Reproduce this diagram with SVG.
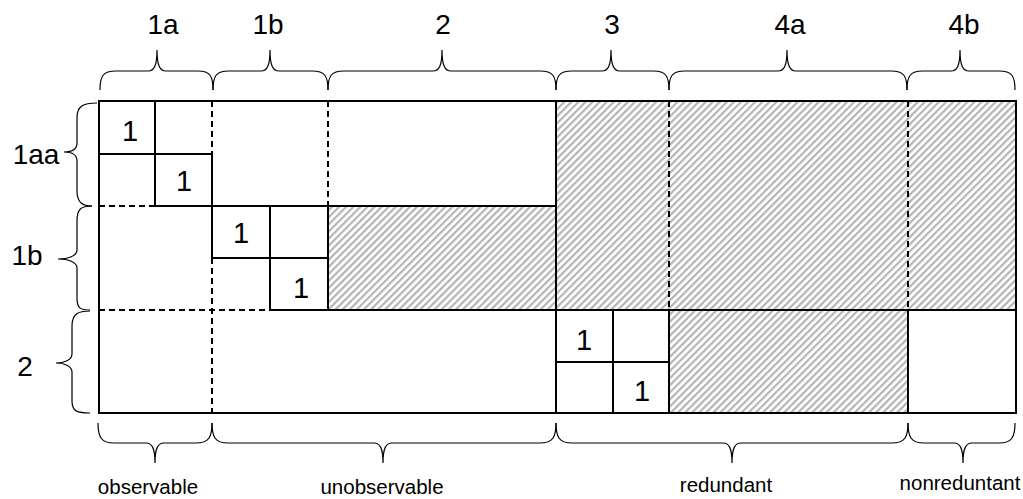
<svg xmlns="http://www.w3.org/2000/svg" width="1023" height="499" viewBox="0 0 1023 499">
  <style>
    .big { font-family: "Liberation Sans", Arial, sans-serif; font-size: 28px; fill: #000; text-anchor: middle; }
    .one { font-family: "Liberation Sans", Arial, sans-serif; font-size: 29px; fill: #000; text-anchor: middle; }
    .small { font-family: "Liberation Sans", Arial, sans-serif; font-size: 20.5px; fill: #000; text-anchor: middle; }
    .solid { stroke: #000; stroke-width: 2; fill: none; }
    .dash { stroke: #000; stroke-width: 2; fill: none; stroke-dasharray: 6 4; }
    .brace { stroke: #000; stroke-width: 1.2; fill: none; }
  </style>
  <defs>
    <pattern id="hatch" patternUnits="userSpaceOnUse" width="5" height="10" patternTransform="rotate(45)">
      <rect x="0" y="0" width="5" height="10" fill="#fff"/>
      <rect x="0" y="0" width="2.2" height="10" fill="#b4b4b4"/>
    </pattern>
  </defs>
  <rect width="1023" height="499" fill="#fff"/>

  <g id="hatched-regions">
    <rect x="556" y="101" width="460" height="209" fill="url(#hatch)"/>
    <rect x="328" y="206" width="228" height="104" fill="url(#hatch)"/>
    <rect x="669" y="310" width="239" height="103" fill="url(#hatch)"/>
  </g>

  <g id="matrix">
    <rect class="solid" x="99" y="101" width="917" height="312"/>
    <path class="solid" d="M155,101 V206 M99,154 H212 M212,154 V258 M155,206 H556 M212,258 H328 M270,206 V310 M328,206 V310 M270,310 H1016 M556,101 V413 M613,310 V413 M556,362 H669 M669,310 V413 M908,310 V413"/>
    <path class="dash" d="M212,101 V154 M328,101 V206 M99,206 H155 M212,258 V413 M99,310 H270 M669,101 V310 M908,101 V310"/>
  </g>

  <g id="ones">
    <text class="one" x="130" y="141">1</text>
    <text class="one" x="184" y="191">1</text>
    <text class="one" x="241" y="243">1</text>
    <text class="one" x="301" y="298">1</text>
    <text class="one" x="584" y="350">1</text>
    <text class="one" x="642" y="401">1</text>
  </g>

  <g id="braces">
    <path class="brace" d="M100,90 C100,76 103,71 116,71 L148,71 C154,71 157,66 157,50 C157,66 160,71 166,71 L198,71 C210,71 213,76 213,90"/>
    <path class="brace" d="M213,90 C213,76 216,71 229,71 L261,71 C267,71 270,66 270,50 C270,66 273,71 279,71 L312,71 C325,71 328,76 328,90"/>
    <path class="brace" d="M328,90 C328,76 331,71 344,71 L433,71 C439,71 442,66 442,50 C442,66 445,71 451,71 L540,71 C553,71 556,76 556,90"/>
    <path class="brace" d="M556,90 C556,76 559,71 572,71 L602,71 C608,71 611,66 611,50 C611,66 614,71 620,71 L653,71 C666,71 669,76 669,90"/>
    <path class="brace" d="M669,90 C669,76 672,71 685,71 L778,71 C784,71 787,66 787,50 C787,66 790,71 796,71 L891,71 C904,71 907,76 907,90"/>
    <path class="brace" d="M907,90 C907,76 910,71 923,71 L951,71 C957,71 960,66 960,50 C960,66 963,71 969,71 L999,71 C1012,71 1015,76 1015,90"/>

    <path class="brace" d="M98,423 C98,437 101,443 114,443 L146,443 C152,443 155,448 155,463 C155,448 158,443 164,443 L196,443 C209,443 212,437 212,423"/>
    <path class="brace" d="M212,423 C212,437 215,443 228,443 L374,443 C380,443 383,448 383,463 C383,448 386,443 392,443 L540,443 C553,443 556,437 556,423"/>
    <path class="brace" d="M556,423 C556,437 559,443 572,443 L723,443 C729,443 732,448 732,463 C732,448 735,443 741,443 L892,443 C905,443 908,437 908,423"/>
    <path class="brace" d="M908,423 C908,437 911,443 924,443 L954,443 C960,443 963,448 963,463 C963,448 966,443 972,443 L999,443 C1012,443 1015,437 1015,423"/>

    <path class="brace" d="M97,103 C83,103 77,106 77,118 L77,143 C77,149 73,152 64,152 C73,152 77,155 77,161 L77,191 C77,203 83,206 92,206"/>
    <path class="brace" d="M92,206 C81,206 77,209 77,221 L77,250 C77,256 68,259 58,259 C68,259 77,262 77,268 L77,298 C77,309 81,310 90,310"/>
    <path class="brace" d="M90,311 C78,311 72,314 72,326 L72,354 C72,360 64,363 56,363 C64,363 72,366 72,372 L72,401 C72,412 78,413 90,413"/>
  </g>

  <g id="labels">
    <text class="big" x="163" y="34">1a</text>
    <text class="big" x="268" y="34">1b</text>
    <text class="big" x="443" y="34">2</text>
    <text class="big" x="612" y="34">3</text>
    <text class="big" x="790" y="34">4a</text>
    <text class="big" x="964" y="34">4b</text>
    <text class="big" x="36" y="164">1aa</text>
    <text class="big" x="27" y="265">1b</text>
    <text class="big" x="25" y="376">2</text>
    <text class="small" x="148" y="494">observable</text>
    <text class="small" x="382" y="494">unobservable</text>
    <text class="small" x="726" y="492">redundant</text>
    <text class="small" x="960" y="490">nonreduntant</text>
  </g>
</svg>
